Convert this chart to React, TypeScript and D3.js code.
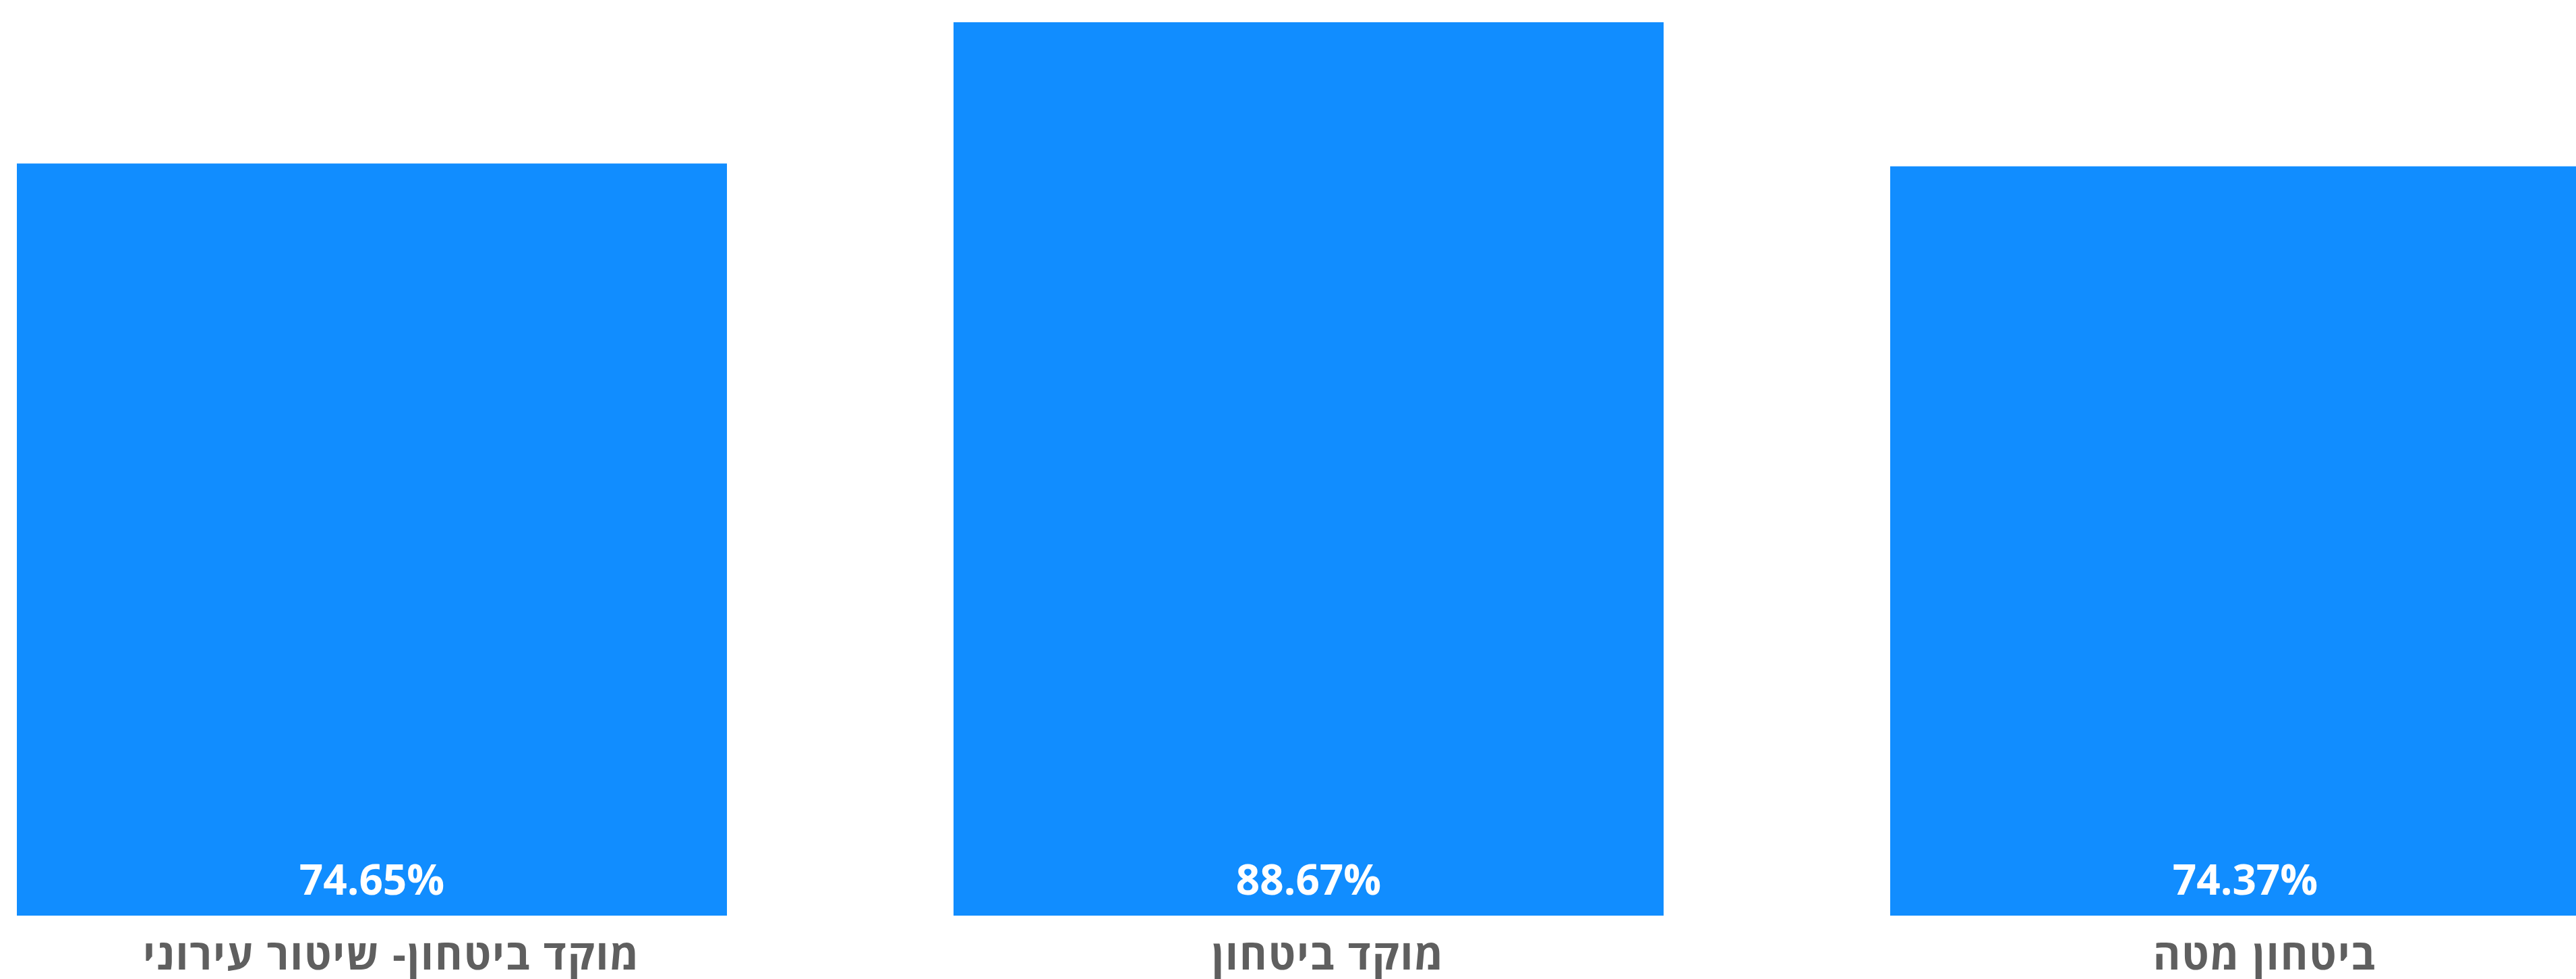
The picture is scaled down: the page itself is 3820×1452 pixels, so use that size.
import React from "react";
import * as d3 from "d3";

const categories = ["מוקד ביטחון- שיטור עירוני", "מוקד ביטחון", "ביטחון מטה"];
const values = [74.65, 88.67, 74.37];
const valueLabels = ["74.65%", "88.67%", "74.37%"];

const W = 3820;
const H = 1452;

export default function App() {
  // band scale: step 1389, bar width 1053, first bar starts at x=25
  const step = 1389;
  const inner = 336 / step;
  const x = d3
    .scaleBand<string>()
    .domain(categories)
    .range([25, 25 + step * 3 - 336])
    .paddingInner(inner)
    .paddingOuter(0);
  const bw = x.bandwidth();
  const y = d3.scaleLinear().domain([0, 88.67]).range([1358, 33]);
  return (
    <svg
      width={W}
      height={H}
      style={{ position: "absolute", left: 0, top: 0, background: "#fff" }}
    >
      {categories.map((c, i) => {
        const x0 = x(c) as number;
        return (
          <g key={c}>
            <rect
              x={x0}
              y={y(values[i])}
              width={bw}
              height={y(0) - y(values[i])}
              fill="#118DFF"
            />
            <text
              x={x0 + bw / 2}
              y={1327}
              textAnchor="middle"
              fill="#ffffff"
              fontFamily="'Open Sans', sans-serif"
              fontWeight={700}
              fontSize={62}
            >
              {valueLabels[i]}
            </text>
            <text
              x={x0 + bw / 2 + 29}
              y={1438}
              textAnchor="middle"
              direction="rtl"
              fill="#5F5F5F"
              fontFamily="'Open Sans', sans-serif"
              fontWeight={700}
              fontSize={62}
              letterSpacing={2}
            >
              {c}
            </text>
          </g>
        );
      })}
    </svg>
  );
}
